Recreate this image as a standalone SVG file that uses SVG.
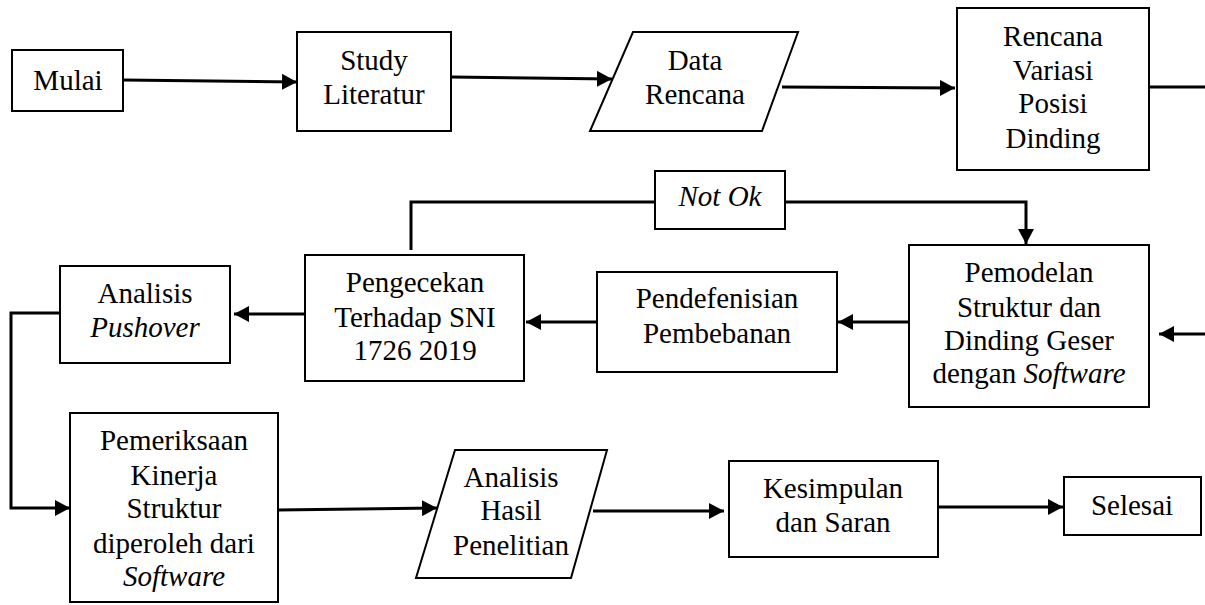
<svg xmlns="http://www.w3.org/2000/svg" width="1205" height="605" viewBox="0 0 1205 605">
<style>
.box{fill:#fff;stroke:#000;stroke-width:2}
.t{font-size:29px;fill:#000;text-anchor:middle}
.i{font-style:italic}
.c{fill:none;stroke:#000;stroke-width:3}
.a{marker-end:url(#ah)}
</style>
<defs>
<marker id="ah" markerUnits="userSpaceOnUse" markerWidth="16" markerHeight="16" refX="15" refY="8" orient="auto">
<path d="M0,0 L15,8 L0,16 z" fill="#000"/>
</marker>
</defs>
<rect width="1205" height="605" fill="#fff"/>
<g id="connectors">
<path class="c a" d="M123,80 L297,82"/>
<path class="c a" d="M451,77 L612,79"/>
<path class="c a" d="M782,87 L955,88"/>
<path class="c" d="M1149,87 L1205,87"/>
<path class="c" d="M411,250 L411,202 L655,202"/>
<path class="c a" d="M785,202 L1026,202 L1026,244"/>
<path class="c a" d="M1205,334 L1159,334"/>
<path class="c a" d="M909,322 L838,322"/>
<path class="c a" d="M597,322 L526,322"/>
<path class="c a" d="M305,314 L234,314"/>
<path class="c a" d="M60,313 L11,313 L11,508 L70,508"/>
<path class="c a" d="M278,510 L437,508"/>
<path class="c a" d="M593,511 L724,511"/>
<path class="c a" d="M938,507 L1063,507"/>
</g>
<g font-family="Liberation Serif, serif">
<g id="mulai">
<rect class="box" x="12" y="50" width="111" height="61"/>
<text class="t" x="68" y="90">Mulai</text>
</g>
<g id="study">
<rect class="box" x="297" y="32" width="154" height="99"/>
<text class="t" x="374" y="70">Study</text>
<text class="t" x="374" y="104">Literatur</text>
</g>
<g id="data">
<polygon class="box" points="633,32 798,32 762,131 590,131"/>
<text class="t" x="695" y="70">Data</text>
<text class="t" x="695" y="104">Rencana</text>
</g>
<g id="rencana">
<rect class="box" x="957" y="8" width="192" height="162"/>
<text class="t" x="1053" y="46">Rencana</text>
<text class="t" x="1053" y="80">Variasi</text>
<text class="t" x="1053" y="113">Posisi</text>
<text class="t" x="1053" y="148">Dinding</text>
</g>
<g id="notok">
<rect class="box" x="655" y="171" width="130" height="58"/>
<text class="t i" x="720" y="206">Not Ok</text>
</g>
<g id="pemodelan">
<rect class="box" x="909" y="245" width="240" height="162"/>
<text class="t" x="1029" y="282">Pemodelan</text>
<text class="t" x="1029" y="317">Struktur dan</text>
<text class="t" x="1029" y="350">Dinding Geser</text>
<text class="t" x="1029" y="383">dengan <tspan class="i">Software</tspan></text>
</g>
<g id="pendefenisian">
<rect class="box" x="597" y="272" width="240" height="100"/>
<text class="t" x="717" y="308">Pendefenisian</text>
<text class="t" x="717" y="343">Pembebanan</text>
</g>
<g id="pengecekan">
<rect class="box" x="305" y="255" width="219" height="126"/>
<text class="t" x="415" y="292">Pengecekan</text>
<text class="t" x="415" y="327">Terhadap SNI</text>
<text class="t" x="415" y="360">1726 2019</text>
</g>
<g id="pushover">
<rect class="box" x="60" y="266" width="170" height="97"/>
<text class="t" x="145" y="303">Analisis</text>
<text class="t i" x="145" y="337">Pushover</text>
</g>
<g id="pemeriksaan">
<rect class="box" x="70" y="413" width="208" height="189"/>
<text class="t" x="174" y="450">Pemeriksaan</text>
<text class="t" x="174" y="485">Kinerja</text>
<text class="t" x="174" y="518">Struktur</text>
<text class="t" x="174" y="553">diperoleh dari</text>
<text class="t i" x="174" y="586">Software</text>
</g>
<g id="hasil">
<polygon class="box" points="455,450 607,450 571,578 416,578"/>
<text class="t" x="511" y="487">Analisis</text>
<text class="t" x="511" y="520">Hasil</text>
<text class="t" x="511" y="555">Penelitian</text>
</g>
<g id="kesimpulan">
<rect class="box" x="729" y="461" width="209" height="96"/>
<text class="t" x="833" y="498">Kesimpulan</text>
<text class="t" x="833" y="532">dan Saran</text>
</g>
<g id="selesai">
<rect class="box" x="1064" y="477" width="137" height="58"/>
<text class="t" x="1132" y="515">Selesai</text>
</g>
</g>
</svg>
